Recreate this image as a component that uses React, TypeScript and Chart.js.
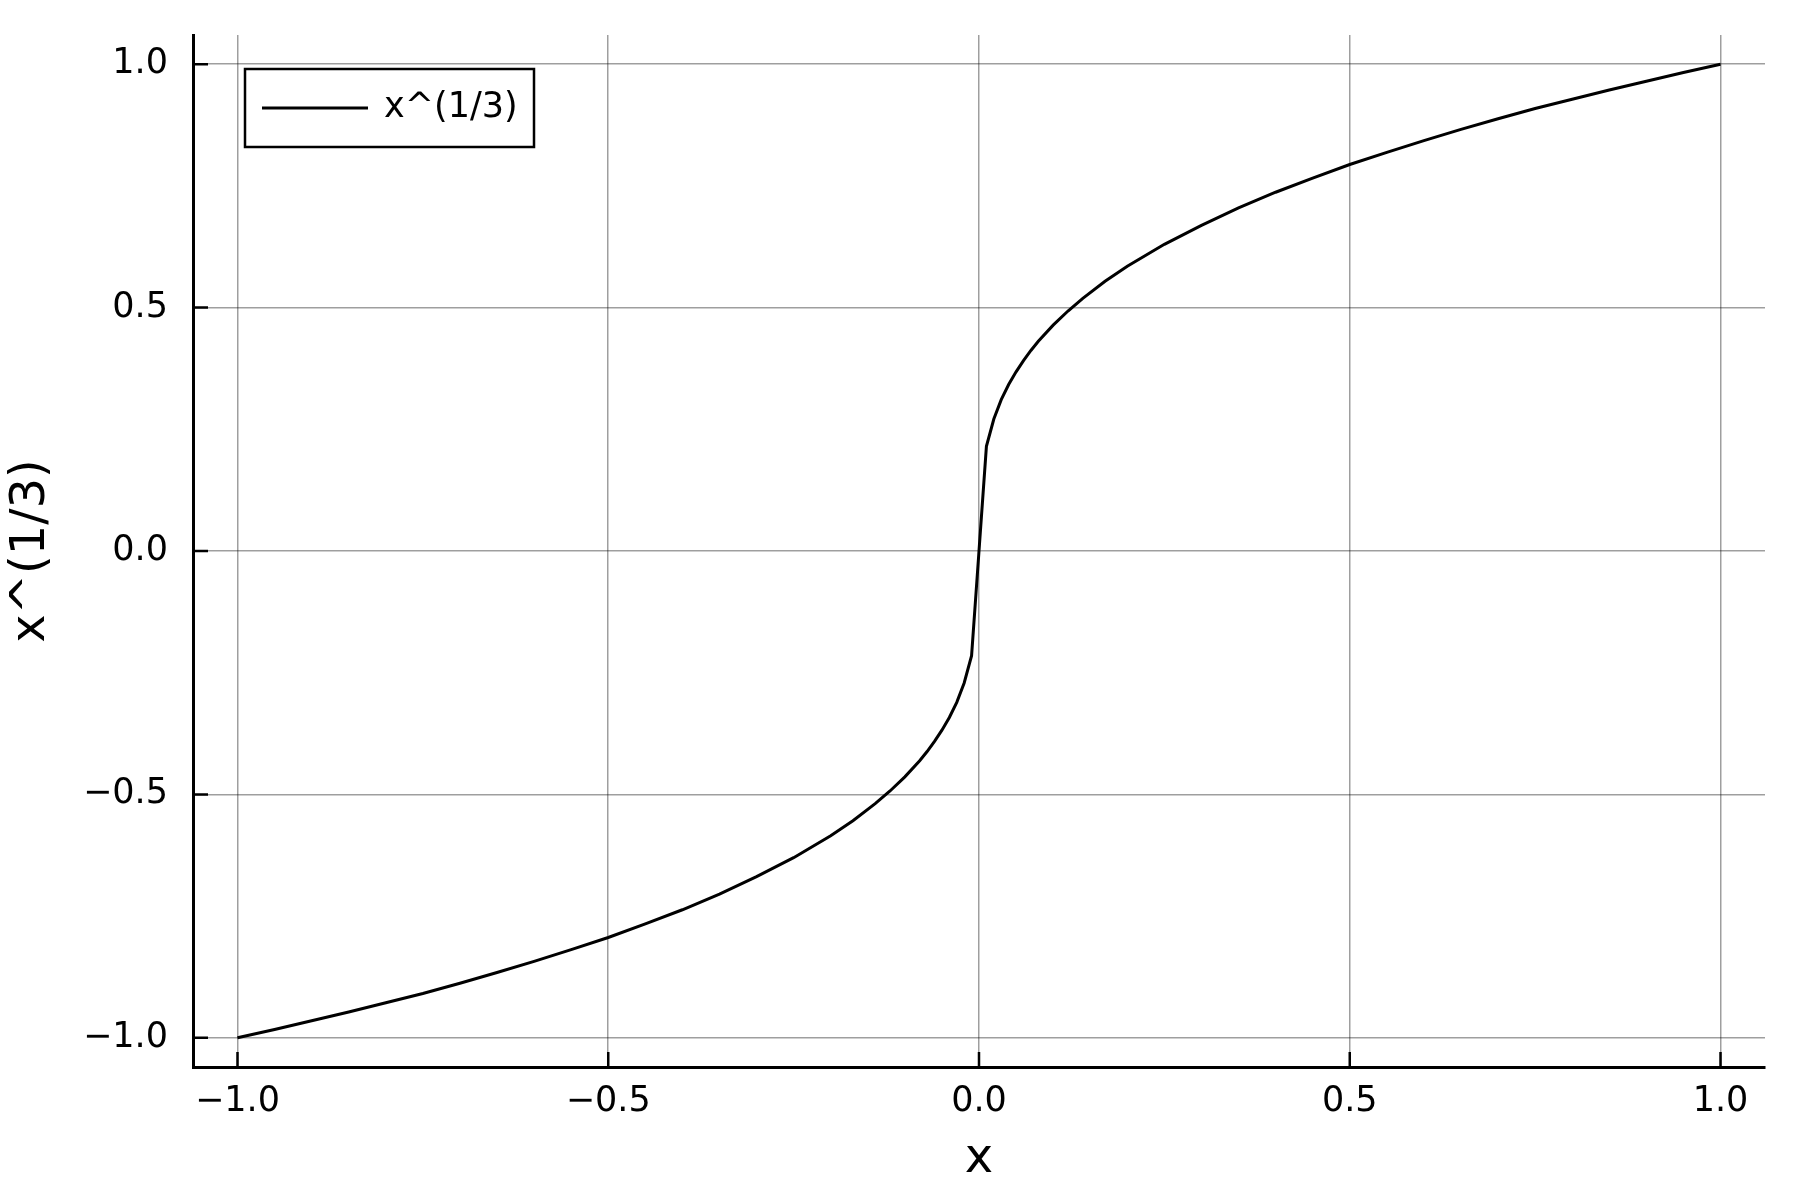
import React, { useEffect, useRef } from "react";
import { Chart, registerables } from "chart.js";

Chart.register(...registerables);

const xValues = [
  -1, -0.95, -0.9, -0.85, -0.8, -0.75, -0.7, -0.65, -0.6, -0.55, -0.5, -0.45, -0.4, -0.35, -0.3,
  -0.25, -0.2, -0.17, -0.14, -0.12, -0.1, -0.08, -0.07, -0.06, -0.05, -0.04, -0.03, -0.02, -0.01,
  0, 0.01, 0.02, 0.03, 0.04, 0.05, 0.06, 0.07, 0.08, 0.1, 0.12, 0.14, 0.17, 0.2, 0.25, 0.3, 0.35,
  0.4, 0.45, 0.5, 0.55, 0.6, 0.65, 0.7, 0.75, 0.8, 0.85, 0.9, 0.95, 1,
];
const yValues = [
  -1, -0.983, -0.965, -0.947, -0.928, -0.909, -0.888, -0.866, -0.843, -0.819, -0.794, -0.766,
  -0.737, -0.705, -0.669, -0.63, -0.585, -0.554, -0.519, -0.493, -0.464, -0.431, -0.412, -0.391,
  -0.368, -0.342, -0.311, -0.271, -0.215, 0, 0.215, 0.271, 0.311, 0.342, 0.368, 0.391, 0.412,
  0.431, 0.464, 0.493, 0.519, 0.554, 0.585, 0.63, 0.669, 0.705, 0.737, 0.766, 0.794, 0.819,
  0.843, 0.866, 0.888, 0.909, 0.928, 0.947, 0.965, 0.983, 1,
];
const seriesLabel = "x^(1/3)";
const xTicks = [-1, -0.5, 0, 0.5, 1];
const yTicks = [-1, -0.5, 0, 0.5, 1];
const xTitle = "x";
const yTitle = "x^(1/3)";

const FONT = "'DejaVu Sans', sans-serif";

const fmt = (v: number) => v.toFixed(1).replace("-", "\u2212");

const innerTicks = {
  id: "innerTicks",
  beforeDatasetsDraw(chart: any) {
    const { ctx, chartArea, scales } = chart;
    ctx.save();
    ctx.strokeStyle = "#000";
    ctx.lineWidth = 2.5;
    ctx.beginPath();
    for (const t of scales.x.ticks) {
      const px = scales.x.getPixelForValue(t.value);
      ctx.moveTo(px, chartArea.bottom);
      ctx.lineTo(px, chartArea.bottom - 15);
    }
    for (const t of scales.y.ticks) {
      const py = scales.y.getPixelForValue(t.value);
      ctx.moveTo(chartArea.left, py);
      ctx.lineTo(chartArea.left + 15, py);
    }
    ctx.stroke();
    ctx.restore();
  },
};

const boxLegend = {
  id: "boxLegend",
  afterDraw(chart: any) {
    const { ctx, chartArea } = chart;
    const ds = chart.data.datasets[0];
    const left = chartArea.left + 52;
    const top = chartArea.top + 34;
    const w = 289;
    const h = 78;
    ctx.save();
    ctx.fillStyle = "#fff";
    ctx.fillRect(left, top, w, h);
    ctx.strokeStyle = "#000";
    ctx.lineWidth = 2.5;
    ctx.strokeRect(left, top, w, h);
    const my = top + h / 2;
    ctx.strokeStyle = ds.borderColor;
    ctx.lineWidth = 3;
    ctx.beginPath();
    ctx.moveTo(left + 17, my);
    ctx.lineTo(left + 123, my);
    ctx.stroke();
    ctx.fillStyle = "#000";
    ctx.font = `35px ${FONT}`;
    ctx.textBaseline = "middle";
    ctx.textAlign = "left";
    ctx.fillText(ds.label, left + 139, my);
    ctx.restore();
  },
};

export default function App() {
  const ref = useRef<HTMLCanvasElement | null>(null);

  useEffect(() => {
    if (!ref.current) return;
    const data = xValues.map((x, i) => ({ x, y: yValues[i] }));
    const chart = new Chart(ref.current, {
      type: "line",
      data: {
        datasets: [
          {
            label: seriesLabel,
            data,
            borderColor: "#000",
            borderWidth: 3,
            pointRadius: 0,
            tension: 0,
            fill: false,
          },
        ],
      },
      options: {
        responsive: false,
        animation: false,
        layout: { padding: { left: 0, top: 35, right: 35, bottom: 0 } },
        plugins: { legend: { display: false }, tooltip: { enabled: false } },
        scales: {
          x: {
            type: "linear",
            min: -1.06,
            max: 1.06,
            afterBuildTicks: (s: any) => {
              s.ticks = xTicks.map((v) => ({ value: v }));
            },
            afterFit: (s: any) => {
              s.height = 133;
              s.paddingLeft = 0;
              s.paddingRight = 0;
            },
            grid: { color: "rgba(0,0,0,0.38)", lineWidth: 1.5, drawTicks: false },
            border: { display: true, color: "#000", width: 3 },
            ticks: {
              color: "#000",
              font: { family: FONT, size: 35 },
              padding: 14,
              maxRotation: 0,
              callback: (v: any) => fmt(Number(v)),
            },
            title: {
              display: true,
              text: xTitle,
              color: "#000",
              font: { family: FONT, size: 48 },
              padding: { top: 0, bottom: 12 },
            },
          },
          y: {
            type: "linear",
            min: -1.06,
            max: 1.06,
            afterBuildTicks: (s: any) => {
              s.ticks = yTicks.map((v) => ({ value: v }));
            },
            afterFit: (s: any) => {
              s.width = 193;
              s.paddingTop = 0;
              s.paddingBottom = 0;
            },
            grid: { color: "rgba(0,0,0,0.38)", lineWidth: 1.5, drawTicks: false },
            border: { display: true, color: "#000", width: 3 },
            ticks: {
              color: "#000",
              font: { family: FONT, size: 35 },
              padding: 25,
              callback: (v: any) => fmt(Number(v)),
            },
            title: {
              display: true,
              text: yTitle,
              color: "#000",
              font: { family: FONT, size: 48 },
              padding: { top: 3, bottom: 0 },
            },
          },
        },
      },
      plugins: [innerTicks, boxLegend],
    });
    return () => chart.destroy();
  }, []);

  return (
    <div style={{ position: "absolute", left: 0, top: 0, width: 1800, height: 1200, background: "#fff" }}>
      <canvas ref={ref} width={1800} height={1200} />
    </div>
  );
}
